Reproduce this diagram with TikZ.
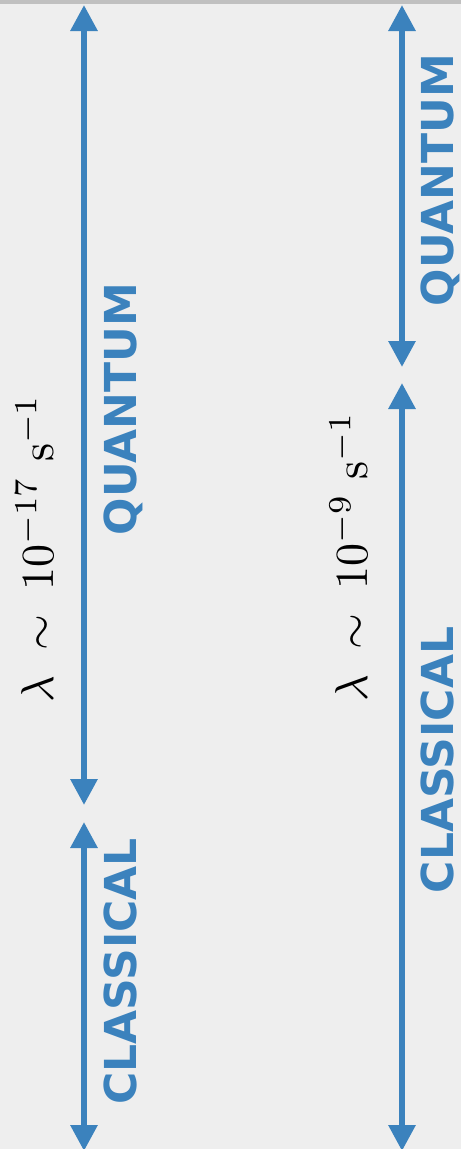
\documentclass[tikz,border=0pt]{standalone}
\usepackage{fontspec}
\usetikzlibrary{arrows.meta}
\newfontfamily\lblfont{DejaVu Sans}
\definecolor{qblue}{RGB}{59,130,189}
\definecolor{bgray}{RGB}{238,238,238}
\definecolor{topbar}{RGB}{192,192,192}
\tikzset{
  dbl/.style={draw=qblue, line width=6pt,
    {Triangle[width=26pt,length=26pt]}-{Triangle[width=26pt,length=26pt]}},
  regime/.style={text=qblue, font=\lblfont\bfseries\fontsize{44}{48}\selectfont,
    rotate=90, anchor=base, inner sep=0pt},
  rate/.style={rotate=90, anchor=base, inner sep=0pt},
}
\begin{document}
\begin{tikzpicture}[x=1pt,y=-1pt]
\useasboundingbox (0,0) rectangle (461,1149);
\fill[bgray] (0,0) rectangle (461,1149);
\fill[topbar] (0,0) rectangle (461,4);
% left pair
\coordinate (lqt) at (84,5);
\coordinate (lqb) at (84,805);
\coordinate (lct) at (84,822);
\coordinate (lcb) at (84,1151);
% right pair
\coordinate (rqt) at (402,5);
\coordinate (rqb) at (402,367);
\coordinate (rct) at (402,383);
\coordinate (rcb) at (402,1151);
\draw[dbl] (lqt) -- (lqb);
\draw[dbl] (lct) -- (lcb);
\draw[dbl] (rqt) -- (rqb);
\draw[dbl] (rct) -- (rcb);
\node[regime] (lq) at (136,409) {QUANTUM};
\node[regime] (lc) at (136,971.5) {CLASSICAL};
\node[regime] (rq) at (453,180) {QUANTUM};
\node[regime] (rc) at (453,760) {CLASSICAL};
\node[rate] (lr) at (53,548.5) {\scalebox{4.6}{$\lambda\hspace{2.6pt}\sim\hspace{2.6pt}10^{-17}\hspace{3.2pt}\mathrm{s}^{-1}$}};
\node[rate] (rr) at (367,556.5) {\scalebox{4.6}{$\lambda\hspace{2.6pt}\sim\hspace{2.6pt}10^{-9}\hspace{3.2pt}\mathrm{s}^{-1}$}};
\end{tikzpicture}
\end{document}
